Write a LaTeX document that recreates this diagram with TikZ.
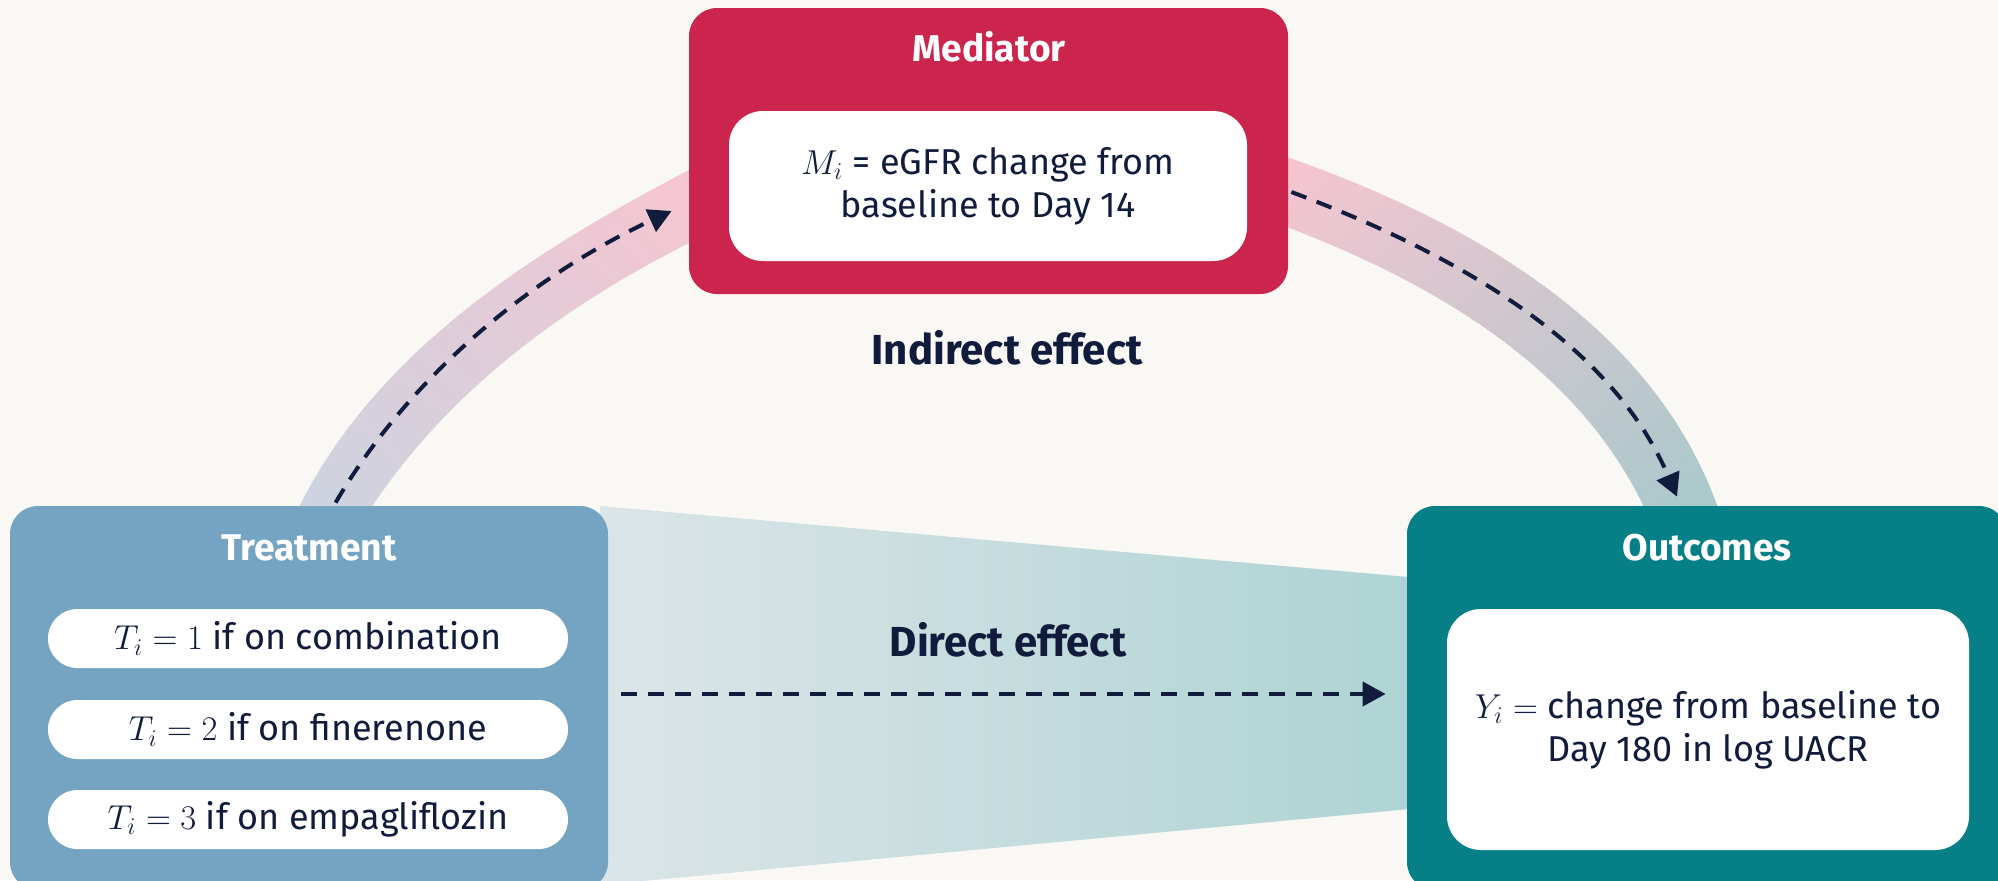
\documentclass[tikz,border=0pt]{standalone}
\usepackage{fontspec}
\setmainfont{Fira Sans}
\usetikzlibrary{arrows.meta,shadings}
\definecolor{bg}{HTML}{F9F8F4}
\definecolor{medred}{HTML}{CB254E}
\definecolor{treatblue}{HTML}{75A4C2}
\definecolor{outteal}{HTML}{067F86}
\definecolor{ink}{HTML}{111C3D}
\definecolor{fanleft}{HTML}{DCE5E8}
\definecolor{fanright}{HTML}{AED3D3}
\definecolor{bandblue}{HTML}{CCD4E0}
\definecolor{bandpink}{HTML}{F7C5D1}
\definecolor{bandmidl}{HTML}{DFCCD8}
\definecolor{bandteal}{HTML}{A6C9CB}
\definecolor{bandmidr}{HTML}{CEC7CE}
\begin{document}
\begin{tikzpicture}[x=0.5pt,y=-0.5pt,
  outerbox/.style={rounded corners=14pt, inner sep=0pt},
  innerbox/.style={fill=white, rounded corners=17pt, inner sep=0pt, text=ink,
    align=center, font=\fontsize{18}{21.5}\selectfont},
  pill/.style={fill=white, rounded corners=14.75pt, inner sep=0pt, text=ink,
    minimum width=260pt, minimum height=29.5pt, font=\fontsize{18}{21.5}\selectfont},
  boxtitle/.style={text=white, font=\fontsize{18.6}{22}\selectfont\bfseries, inner sep=0pt},
  effect/.style={text=ink, font=\fontsize{21}{25}\selectfont\bfseries, inner sep=0pt},
  flow/.style={draw=ink, line width=2pt, dash pattern=on 8pt off 5.5pt,
    -{Triangle[length=11.5pt,width=12pt]}}]

% canvas
\useasboundingbox (0,0) rectangle (1998,880);
\fill[bg] (0,0) rectangle (1998,880);

% direct-effect fan between treatment and outcomes
\shade[left color=fanleft, right color=fanright]
  (600,506) -- (1420,578) -- (1420,808) -- (600,885) -- cycle;

% indirect-effect bands
\shade[lower left=bandblue, upper right=bandpink, upper left=bandmidl, lower right=bandmidl]
  (293,520) -- (300,505) .. controls (379,349) and (534,251) .. (689,170)
  -- (700,170) -- (700,243) -- (689,243)
  .. controls (564,306) and (451,389) .. (373,505) -- (366,520) -- cycle;
\shade[upper left=bandpink, lower right=bandteal, upper right=bandmidr, lower left=bandmidr]
  (1278,157) -- (1287,157) .. controls (1469,221) and (1651,324) .. (1717,505)
  -- (1722,520) -- (1638,520) -- (1643,505)
  .. controls (1575,365) and (1433,283) .. (1287,227) -- (1278,227) -- cycle;

% mediator
\node[outerbox, fill=medred, minimum width=299.5pt, minimum height=143pt] (med) at (988.5,151) {};
\node[boxtitle] (medtitle) at (989,47) {Mediator};
\node[innerbox, minimum width=259pt, minimum height=75pt] (medtext) at (988,186)
  {$M_i$ = eGFR change from\\baseline to Day 14};

% treatment
\node[outerbox, fill=treatblue, minimum width=299pt, minimum height=192pt] (treat) at (309,698) {};
\node[boxtitle] (treattitle) at (309,548) {Treatment};
\node[pill] (t1) at (308,638.5) {$T_i = 1$ if on combination};
\node[pill] (t2) at (308,729.5) {$T_i = 2$ if on finerenone};
\node[pill] (t3) at (308,819.5) {$T_i = 3$ if on empagliflozin};

% outcomes
\node[outerbox, fill=outteal, minimum width=300pt, minimum height=192pt] (out) at (1707,698) {};
\node[boxtitle] (outtitle) at (1707,548) {Outcomes};
\node[innerbox, minimum width=261pt, minimum height=120.5pt] (outtext) at (1708,729.5)
  {$Y_i =$ change from baseline to\\Day 180 in log UACR};

% effect labels
\node[effect] (indirect) at (1007,348) {Indirect effect};
\node[effect] (direct) at (1008,640) {Direct effect};

% paths
\draw[flow] ([xshift=163pt,yshift=1.5pt]treat.north west)
  .. controls (413,370) and (540,272) .. ([xshift=-8.5pt,yshift=-30pt]med.west);
\draw[flow] ([xshift=1.5pt,yshift=-20.5pt]med.east)
  .. controls (1451,252) and (1610,340) .. ([xshift=-15pt,yshift=4.5pt]out.north);
\draw[flow] ([xshift=6.5pt,yshift=2pt]treat.east) -- ([xshift=-10.5pt,yshift=2pt]out.west);
\end{tikzpicture}
\end{document}
